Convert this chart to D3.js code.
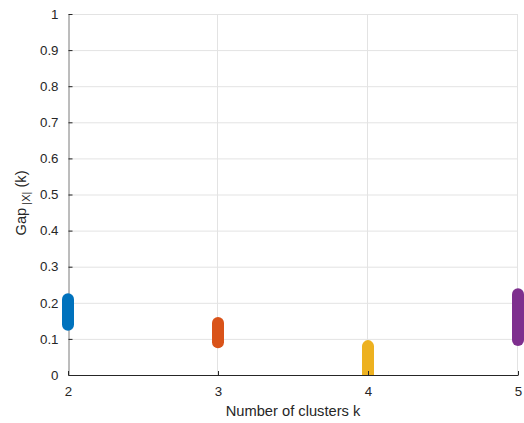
<!DOCTYPE html>
<html>
<head>
<meta charset="utf-8">
<script src="https://cdn.jsdelivr.net/npm/d3@7"></script>
<style>
    body { margin: 0; background: #fff; }
    svg { display: block; font-family: "Liberation Sans", Arial, Helvetica, sans-serif; }
</style>
</head>
<body>
<div class="chart"></div>
<script>
// number of clusters and the spread of gap values for each
const clusters = [2, 3, 4, 5]
const gapMin = [0.139, 0.091, 0.0, 0.097]
const gapMax = [0.210, 0.144, 0.080, 0.224]
const colors = ["#0072BD", "#D95319", "#EDB120", "#7E2F8E"]
const xTicks = [2, 3, 4, 5]
const yTicks = [0, 0.1, 0.2, 0.3, 0.4, 0.5, 0.6, 0.7, 0.8, 0.9, 1]

const margin = { top: 14, right: 6, bottom: 48, left: 68 }
const width = 524 - margin.left - margin.right
const height = 423 - margin.top - margin.bottom

const x = d3.scaleLinear().domain([2, 5]).range([0, width])
const y = d3.scaleLinear().domain([0, 1]).range([height, 0])

const svg = d3.select(".chart")
    .append("svg")
    .attr("width", 524)
    .attr("height", 423)
    .append("g")
    .attr("transform", `translate(${margin.left}, ${margin.top})`)

// only cut marks at the bottom of the axes, markers may overhang the sides
svg.append("clipPath")
    .attr("id", "plotclip")
    .append("rect")
    .attr("x", -margin.left)
    .attr("y", -margin.top)
    .attr("width", width + margin.left + margin.right)
    .attr("height", height + margin.top)

// grid lines
svg.selectAll(".ygrid")
    .data(yTicks.slice(1))
    .join("line")
    .attr("x1", 0)
    .attr("x2", width)
    .attr("y1", d => y(d) + 0.5)
    .attr("y2", d => y(d) + 0.5)
    .attr("stroke", "#e3e3e3")
    .attr("stroke-width", 1)

svg.selectAll(".xgrid")
    .data(xTicks.slice(1))
    .join("line")
    .attr("x1", d => x(d) - 0.5)
    .attr("x2", d => x(d) - 0.5)
    .attr("y1", 0)
    .attr("y2", height)
    .attr("stroke", "#e3e3e3")
    .attr("stroke-width", 1)

//y axis
const yAxis = svg.append("g")
    .attr("transform", "translate(0.5, 0)")
    .call(d3.axisLeft(y)
        .tickValues(yTicks)
        .tickFormat(d => d === 0 || d === 1 ? d3.format("d")(d) : d3.format(".1f")(d))
        .tickSizeInner(-4)
        .tickSizeOuter(0)
        .tickPadding(10))
yAxis.select(".domain").attr("stroke", "#7a7a7a")
yAxis.selectAll(".tick line").attr("stroke", "#262626")
yAxis.selectAll(".tick text")
    .attr("fill", "#262626")
    .style("font-size", "13.3px")

// bars of overlapping markers drawn as round-capped segments
svg.append("g")
    .attr("clip-path", "url(#plotclip)")
    .selectAll("line")
    .data(clusters)
    .join("line")
    .attr("x1", d => x(d))
    .attr("x2", d => x(d))
    .attr("y1", (d, i) => y(gapMin[i]))
    .attr("y2", (d, i) => y(gapMax[i]))
    .attr("stroke", (d, i) => colors[i])
    .attr("stroke-width", 12)
    .attr("stroke-linecap", "round")

//x axis
const xAxis = svg.append("g")
    .attr("transform", `translate(0, ${height})`)
    .call(d3.axisBottom(x)
        .tickValues(xTicks)
        .tickFormat(d3.format("d"))
        .tickSizeInner(-4)
        .tickSizeOuter(0)
        .tickPadding(12))
xAxis.select(".domain").attr("stroke", "#262626")
xAxis.selectAll(".tick line").attr("stroke", "#262626")
xAxis.selectAll(".tick text")
    .attr("fill", "#262626")
    .style("font-size", "13.3px")

//axis labels
svg.append("text")
    .attr("x", width / 2)
    .attr("y", height + 41)
    .attr("text-anchor", "middle")
    .attr("fill", "#262626")
    .style("font-size", "14.7px")
    .text("Number of clusters k")

const ylab = svg.append("text")
    .attr("transform", `translate(${26 - margin.left}, ${203 - margin.top}) rotate(-90)`)
    .attr("text-anchor", "middle")
    .attr("fill", "#262626")
    .style("font-size", "14.7px")
ylab.append("tspan").text("Gap")
ylab.append("tspan").attr("dy", 4).style("font-size", "11px").text(" |X|")
ylab.append("tspan").attr("dy", -4).text(" (k)")
</script>
</body>
</html>
